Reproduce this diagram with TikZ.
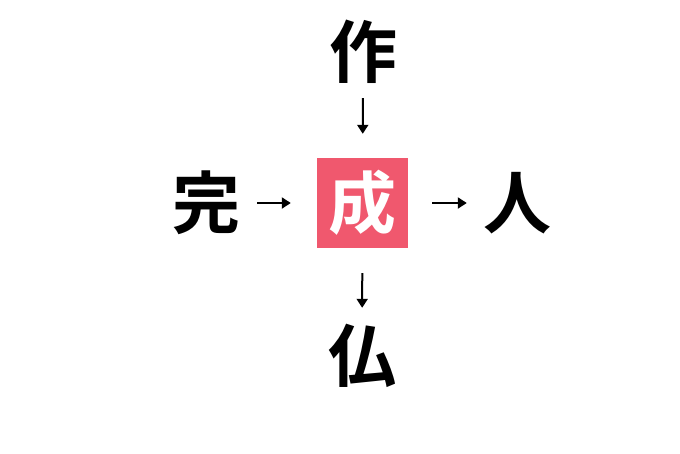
\documentclass[tikz,border=0pt]{standalone}
\usepackage{fontspec}
\newfontfamily\cjk{Noto Sans CJK JP Bold}
\usetikzlibrary{arrows.meta}
\definecolor{boxpink}{RGB}{240,88,110}
\tikzset{
  kanji/.style={font=\cjk\fontsize{68}{68}\selectfont, inner sep=0pt, minimum width=70pt, minimum height=70pt, text height=59pt, text depth=9pt},
  centerbox/.style={kanji, fill=boxpink, text=white, minimum width=91pt, minimum height=90pt},
  link/.style={line width=2pt, -{Triangle[length=9pt,width=11pt]}}
}
\begin{document}
\begin{tikzpicture}[x=1pt,y=-1pt]
\useasboundingbox (0,0) rectangle (680,453);
\node[centerbox] (sei) at (362.5,203) {成};
\node[kanji] (saku) at (363,52) {作};
\node[kanji] (kan) at (206,203) {完};
\node[kanji] (hito) at (517,203) {人};
\node[kanji] (butsu) at (362,356) {仏};
\draw[link, shorten <=16pt, shorten >=26pt] (kan) -- (sei);
\draw[link, shorten <=24pt, shorten >=15pt] (sei) -- (hito);
\draw[link, shorten <=11pt, shorten >=24pt] (saku) -- (sei);
\draw[link, shorten <=25pt, shorten >=13pt] (sei) -- (butsu);
\end{tikzpicture}
\end{document}
